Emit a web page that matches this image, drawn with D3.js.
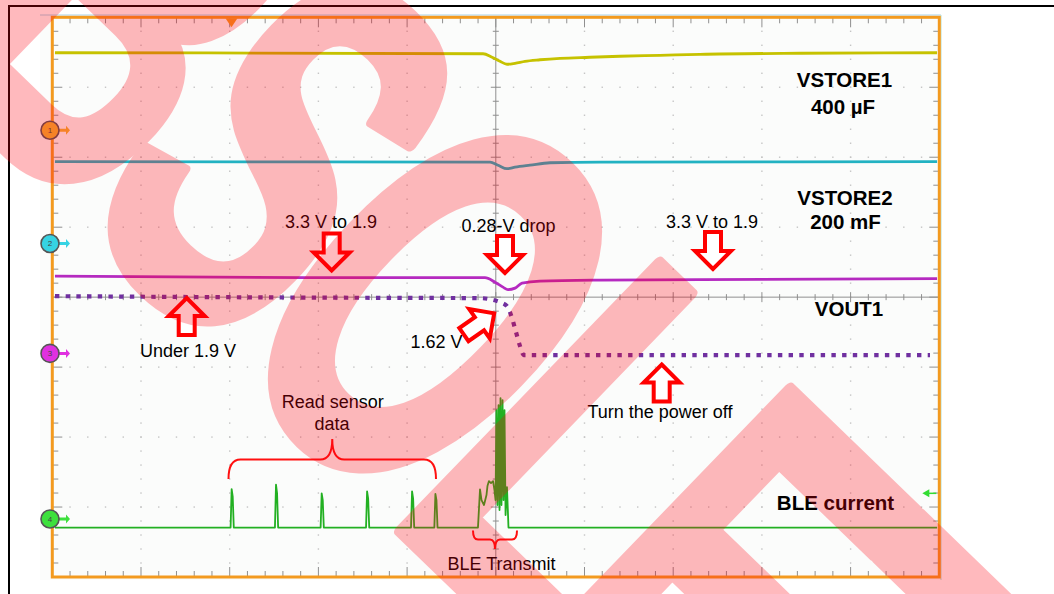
<!DOCTYPE html>
<html><head><meta charset="utf-8">
<script src="https://cdn.jsdelivr.net/npm/d3@7"></script>
<style>
body{margin:0;background:#fff}
svg{display:block}
text{font-family:"Liberation Sans",Arial,Helvetica,sans-serif}
</style>
</head><body>
<svg id="c" width="1054" height="594"></svg>
<script>
// ---- data (oscilloscope divisions: time 0..10, volts/div -4..4) ----
const timeDivs = [0,1,2,3,4,5,6,7,8,9,10];
const levelDivs = [-4,-3,-2,-1,0,1,2,3,4];

// CH1 VSTORE1
const ch1T = [0.03,4.856,4.957,5.047,5.126,5.217,5.329,5.498,5.724,6.062,6.400,6.851,7.302,8.430,9.975];
const ch1V = [3.493,3.479,3.429,3.371,3.329,3.343,3.371,3.393,3.414,3.429,3.443,3.457,3.471,3.486,3.493];
// CH2 VSTORE2
const ch2T = [0.03,4.935,5.025,5.126,5.217,5.386,5.611,6.175,9.975];
const ch2V = [1.936,1.929,1.886,1.836,1.857,1.886,1.921,1.929,1.936];
// CH3
const ch3T = [0.03,3.131,4.878,4.991,5.081,5.137,5.217,5.296,5.498,6.175,7.302,9.975];
const ch3V = [0.300,0.279,0.279,0.214,0.143,0.107,0.129,0.200,0.229,0.243,0.250,0.264];
// VOUT1 (dotted)
const voutT = [0.03,3.018,4.822,4.957,5.047,5.126,5.183,5.228,5.273,5.318,9.895];
const voutV = [0.014,-0.007,-0.014,-0.036,-0.071,-0.129,-0.300,-0.500,-0.700,-0.829,-0.829];
// CH4 BLE current
const ch4T = [0.03,2.010,2.022,2.034,2.046,2.510,2.522,2.534,2.546,3.025,3.037,3.049,3.061,
  3.537,3.549,3.561,3.573,4.044,4.056,4.068,4.080,4.307,4.319,4.331,4.343,
  4.799,4.822,4.839,4.867,4.895,4.906,4.923,4.946,4.969,4.985,4.997,5.008,5.019,5.031,5.042,
  5.053,5.064,5.076,5.087,5.098,5.110,5.126,5.143,9.975];
const ch4V = [-3.293,-3.293,-2.743,-2.850,-3.293,-3.293,-2.681,-2.800,-3.293,-3.293,-2.804,-2.900,-3.293,
  -3.293,-2.776,-2.880,-3.293,-3.293,-2.776,-2.880,-3.293,-3.293,-2.814,-2.900,-3.293,
  -3.293,-2.747,-2.900,-2.971,-2.829,-2.700,-2.629,-2.657,-2.629,-2.757,-2.900,-1.614,-2.971,-1.543,-3.043,
  -1.443,-2.971,-1.471,-2.900,-1.614,-3.114,-2.714,-3.293,-3.293];

const chNames = ["1","2","3","4"];
const chLevels = [2.386,0.767,-0.804,-3.171];
const triggerTime = 2.02;
const triggerLevel = -2.804;

// ---- layout ----
const svg = d3.select('#c');
const L=52.3,R=939.3,T=17.3,B=577;
const x = d3.scaleLinear().domain([0,10]).range([L,R]);
const y = d3.scaleLinear().domain([-4,4]).range([B,T]);

// outer frame
svg.append('rect').attr('x',9).attr('y',6).attr('width',1200).attr('height',800)
  .attr('fill','none').attr('stroke','#000').attr('stroke-width',2);
// screen
svg.append('rect').attr('x',40).attr('y',15).attr('width',901).attr('height',565).attr('fill','#fbfcfb');
svg.append('line').attr('x1',40).attr('x2',941).attr('y1',15).attr('y2',15).attr('stroke','#a9d4e8').attr('stroke-width',1.2);
svg.append('line').attr('x1',941).attr('x2',941).attr('y1',15).attr('y2',580).attr('stroke','#bfe6d8').attr('stroke-width',1.2);

const grid = svg.append('g');
const minorX = d3.range(0,50.5,1).map(i=>i*0.2);
const minorY = d3.range(0,40.5,1).map(i=>-4+i*0.2);
timeDivs.filter(d=>d>0&&d<10&&d!==5).forEach(k=>{
  minorY.forEach(v=>grid.append('rect').attr('x',x(k)-0.7).attr('y',y(v)-0.7).attr('width',1.4).attr('height',1.4).attr('fill','#c4c4c4'));
});
levelDivs.filter(d=>d>-4&&d<4&&d!==0).forEach(m=>{
  minorX.forEach(t=>grid.append('rect').attr('x',x(t)-0.7).attr('y',y(m)-0.7).attr('width',1.4).attr('height',1.4).attr('fill','#c4c4c4'));
});
// center axes
grid.append('line').attr('x1',L).attr('x2',R).attr('y1',y(0)).attr('y2',y(0)).attr('stroke','#8f8f8f').attr('stroke-width',1);
grid.append('line').attr('x1',x(5)).attr('x2',x(5)).attr('y1',T).attr('y2',B).attr('stroke','#8f8f8f').attr('stroke-width',1);
minorX.forEach((t,i)=>{
  const h = i%5===0?5:3;
  grid.append('line').attr('x1',x(t)).attr('x2',x(t)).attr('y1',y(0)-h).attr('y2',y(0)+h).attr('stroke','#8f8f8f');
  const e = i%5===0?10:6;
  grid.append('line').attr('x1',x(t)).attr('x2',x(t)).attr('y1',T).attr('y2',T+e).attr('stroke','#8f8f8f');
  grid.append('line').attr('x1',x(t)).attr('x2',x(t)).attr('y1',B).attr('y2',B-e).attr('stroke','#8f8f8f');
});
minorY.forEach((v,i)=>{
  const h = i%5===0?5:3;
  grid.append('line').attr('x1',x(5)-h).attr('x2',x(5)+h).attr('y1',y(v)).attr('y2',y(v)).attr('stroke','#8f8f8f');
  const e = i%5===0?10:6;
  grid.append('line').attr('x1',L).attr('x2',L+e).attr('y1',y(v)).attr('y2',y(v)).attr('stroke','#8f8f8f');
  grid.append('line').attr('x1',R).attr('x2',R-e).attr('y1',y(v)).attr('y2',y(v)).attr('stroke','#8f8f8f');
});
// screen border
svg.append('rect').attr('x',L).attr('y',T).attr('width',R-L).attr('height',B-T)
  .attr('fill','none').attr('stroke','#f39a1f').attr('stroke-width',3);

// traces
const smooth = d3.line().x(d=>x(d[0])).y(d=>y(d[1])).curve(d3.curveMonotoneX);
const straight = d3.line().x(d=>x(d[0])).y(d=>y(d[1]));
const zip = (a,b)=>a.map((t,i)=>[t,b[i]]);
const tr = svg.append('g').attr('fill','none').attr('stroke-linejoin','round');
tr.append('path').attr('d',smooth(zip(ch1T,ch1V))).attr('stroke','#c6c200').attr('stroke-width',2.8);
tr.append('path').attr('d',smooth(zip(ch2T,ch2V))).attr('stroke','#22b2c2').attr('stroke-width',2.8);
tr.append('path').attr('d',smooth(zip(ch3T,ch3V))).attr('stroke','#b52ac0').attr('stroke-width',2.8);
tr.append('path').attr('d',straight(zip(ch4T,ch4V))).attr('stroke','#22b022').attr('stroke-width',1.8);
tr.append('path').attr('d',smooth(zip(voutT,voutV))).attr('stroke','#7030a0').attr('stroke-width',4.2).attr('stroke-dasharray','4.4 6.3');

// channel markers
const mColors = ['#f3b431','#36d3e3','#e030e0','#3de03d'];
chNames.forEach((n,i)=>{
  const g = svg.append('g').attr('transform',`translate(50,${y(chLevels[i])})`);
  g.append('path').attr('d','M8,-1.5 L16,-1.5 L16,-4.5 L20,0 L16,4.5 L16,1.5 L8,1.5 Z').attr('fill',mColors[i]);
  g.append('circle').attr('r',9).attr('fill',mColors[i]).attr('stroke','#555').attr('stroke-width',1.6);
  g.append('text').attr('text-anchor','middle').attr('dy','0.35em').attr('font-size',8).attr('fill','#444').text(n);
});
// trigger markers
svg.append('path').attr('d',`M${x(triggerTime)-6},${T+1} L${x(triggerTime)+6},${T+1} L${x(triggerTime)},${T+10} Z`).attr('fill','#f39a1f');
svg.append('path').attr('d',`M${R-17},${y(triggerLevel)} L${R-10},${y(triggerLevel)-4} L${R-10},${y(triggerLevel)+4} Z`).attr('fill','#33dd33');
svg.append('line').attr('x1',R-11).attr('x2',R-3).attr('y1',y(triggerLevel)).attr('y2',y(triggerLevel)).attr('stroke','#33dd33').attr('stroke-width',1.5);

// labels
const ann = svg.append('g');
function txt(s,cx,by,size,bold){
  ann.append('text').attr('x',cx).attr('y',by).attr('text-anchor','middle').attr('font-size',size)
    .attr('font-weight',bold?'bold':'normal').attr('fill','#000').text(s);
}
txt('VSTORE1',844.5,87.3,20.5,true);
txt('400 µF',843,114,20.5,true);
txt('VSTORE2',845,204.5,20.5,true);
txt('200 mF',845.5,229,20.5,true);
txt('VOUT1',849,316.3,20.5,true);
txt('BLE current',835.5,510,20.5,true);
txt('3.3 V to 1.9',331,228,18,false);
txt('V',331,249,18,false);
txt('3.3 V to 1.9',712,228,18,false);
txt('V',713,249,18,false);
txt('0.28-V drop',508.5,231.5,18,false);
txt('Under 1.9 V',188,357,18,false);
txt('1.62 V',436.5,348,18,false);
txt('Read sensor',332.8,408,18,false);
txt('data',332,430,18,false);
txt('Turn the power off',660,417.5,18,false);
txt('BLE Transmit',501.5,569.5,18,false);

// block arrows
function arrow(tx,ty,ang){
  ann.append('path').attr('d','M0,0 L18,18 L8,18 L8,37 L-8,37 L-8,18 L-18,18 Z')
    .attr('transform',`translate(${tx},${ty}) rotate(${ang})`)
    .attr('fill','#fff').attr('stroke','#ff0000').attr('stroke-width',4).attr('stroke-linejoin','miter');
}
arrow(331.7,270.5,180);
arrow(505,273,180);
arrow(713,269,180);
arrow(186.7,298,0);
arrow(661.7,364.5,0);
arrow(494.2,313.4,55);

// braces
function brace(x1,x2,yEnd,yBar,yTip,r){
  const xm=(x1+x2)/2;
  const d=`M${x1},${yEnd} Q${x1},${yBar} ${x1+r},${yBar} L${xm-r},${yBar} Q${xm},${yBar} ${xm},${yTip} Q${xm},${yBar} ${xm+r},${yBar} L${x2-r},${yBar} Q${x2},${yBar} ${x2},${yEnd}`;
  ann.append('path').attr('d',d).attr('fill','none').attr('stroke','#ff1010').attr('stroke-width',2);
}
brace(228.5,436,479,459.5,439,12);
brace(473,517,530.5,539.5,549,5);

// watermark
svg.append('g').attr('transform','translate(440,300) rotate(44) scale(1,1.64)')
  .append('text').attr('x',-783.5).attr('y',118).attr('letter-spacing',-20)
  .attr('font-size',330).attr('font-weight','bold').attr('fill','#ff0010')
  .attr('stroke','#ff0010').attr('stroke-width',8).attr('stroke-linejoin','round').attr('opacity',0.27)
  .text('OBSOLETE');
</script>
</body></html>
